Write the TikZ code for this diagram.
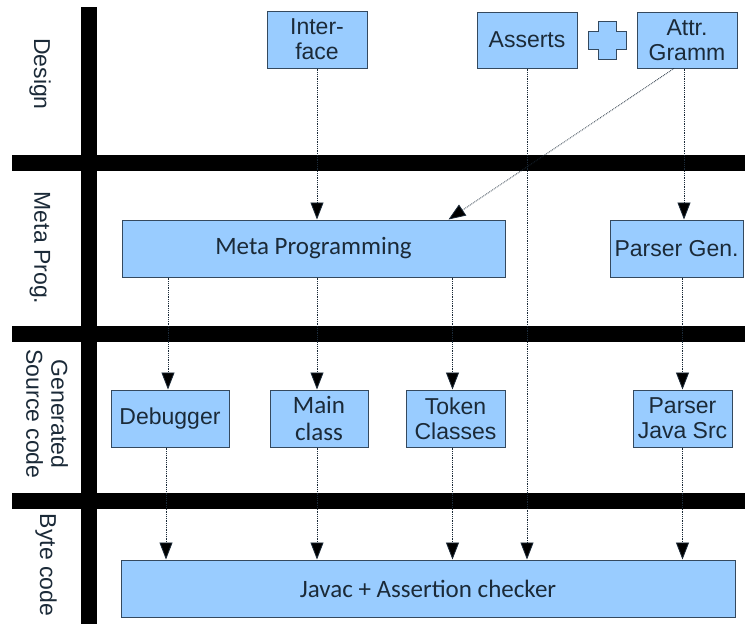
\documentclass[tikz,border=0pt]{standalone}
\usepackage{fontspec}
\setmainfont{Liberation Sans}
\newfontfamily\calibfont{Carlito}
\usetikzlibrary{arrows.meta,positioning}
\definecolor{boxfill}{HTML}{99CCFF}
\definecolor{boxline}{HTML}{34495E}
\definecolor{boxtext}{HTML}{1B2A38}

\begin{document}
\begin{tikzpicture}[x=1pt,y=-1pt,node distance=10pt,
    stage/.style={draw=boxline,fill=boxfill,text=boxtext,line width=1pt,align=center,
      inner sep=0pt,minimum height=57pt,font=\fontsize{23}{25}\selectfont},
    calib/.style={font=\calibfont\fontsize{25}{27}\selectfont},
    lane/.style={rotate=-90,align=center,text=boxtext,font=\fontsize{23}{25}\selectfont},
    flow/.style={densely dotted,line width=0.8pt,draw=boxtext,
      -{Triangle[length=17pt,width=13pt,fill=black]}}]
  \useasboundingbox (0,0) rectangle (745,624);

  \foreach \y in {163,333.5,500.5}
    \draw[line width=16pt] (12,\y) -- (745,\y);
  \draw[line width=16pt] (89,7) -- (89,624);

  \node[lane] (design) at (40,74) {Design};
  \node[lane] (metaprog) at (40,248) {Meta Prog.};
  \node[lane] (gensrc) at (47,414) {Generated\\Source code};
  \node[lane] (bytecode) at (46,565) {Byte code};

  \node[stage,minimum width=100pt] (iface) at (317,39.5) {Inter-\\face};
  \node[stage,minimum width=100pt,minimum height=56pt] (asserts) at (527,40) {Asserts};
  \coordinate[right=30pt of asserts.east] (plus);
  \node[stage,minimum width=100pt,minimum height=56pt,right=59pt of asserts] (attr) {Attr.\\Gramm};
  \draw[draw=boxline,fill=boxfill,line width=1pt] (plus)
    ++(-9,-19) -- ++(18,0) -- ++(0,10) -- ++(10,0) -- ++(0,18) -- ++(-10,0)
    -- ++(0,10) -- ++(-18,0) -- ++(0,-10) -- ++(-10,0) -- ++(0,-18) -- ++(10,0) -- cycle;

  \node[stage,calib,minimum width=383pt] (meta) at (313.5,248.5) {Meta Programming};
  \node[stage,minimum width=133pt] (pgen) at (676.5,248.5) {Parser Gen.};

  \node[stage,minimum width=118pt] (debug) at (170,418.5) {Debugger};
  \node[stage,calib,minimum width=98pt] (mainc) at (319,418.5) {Main\\class};
  \node[stage,minimum width=99pt] (token) at (455.5,418.5) {Token\\Classes};
  \node[stage,minimum width=99pt] (pjava) at (682.5,418.5) {Parser\\Java Src};

  \node[stage,calib,minimum width=614pt] (javac) at (428,588.5) {Javac + Assertion checker};

  \draw[flow] (iface.south) -- (iface.south |- meta.north);
  \draw[flow] ([xshift=-13pt]attr.south) -- ([xshift=-57pt]meta.north east);
  \draw[flow] ([xshift=-3pt]attr.south) -- ([xshift=-3pt]attr.south |- pgen.north);
  \draw[flow] (asserts.south) -- (asserts.south |- javac.north);

  \draw[flow] ([xshift=-2pt]debug.north |- meta.south) -- ([xshift=-2pt]debug.north);
  \draw[flow] ([xshift=-2pt]mainc.north |- meta.south) -- ([xshift=-2pt]mainc.north);
  \draw[flow] ([xshift=-3pt]token.north |- meta.south) -- ([xshift=-3pt]token.north);
  \draw[flow] (pjava.north |- pgen.south) -- (pjava.north);

  \draw[flow] ([xshift=-4pt]debug.south) -- ([xshift=-4pt]debug.south |- javac.north);
  \draw[flow] ([xshift=-2pt]mainc.south) -- ([xshift=-2pt]mainc.south |- javac.north);
  \draw[flow] ([xshift=-3pt]token.south) -- ([xshift=-3pt]token.south |- javac.north);
  \draw[flow] (pjava.south) -- (pjava.south |- javac.north);
\end{tikzpicture}
\end{document}
